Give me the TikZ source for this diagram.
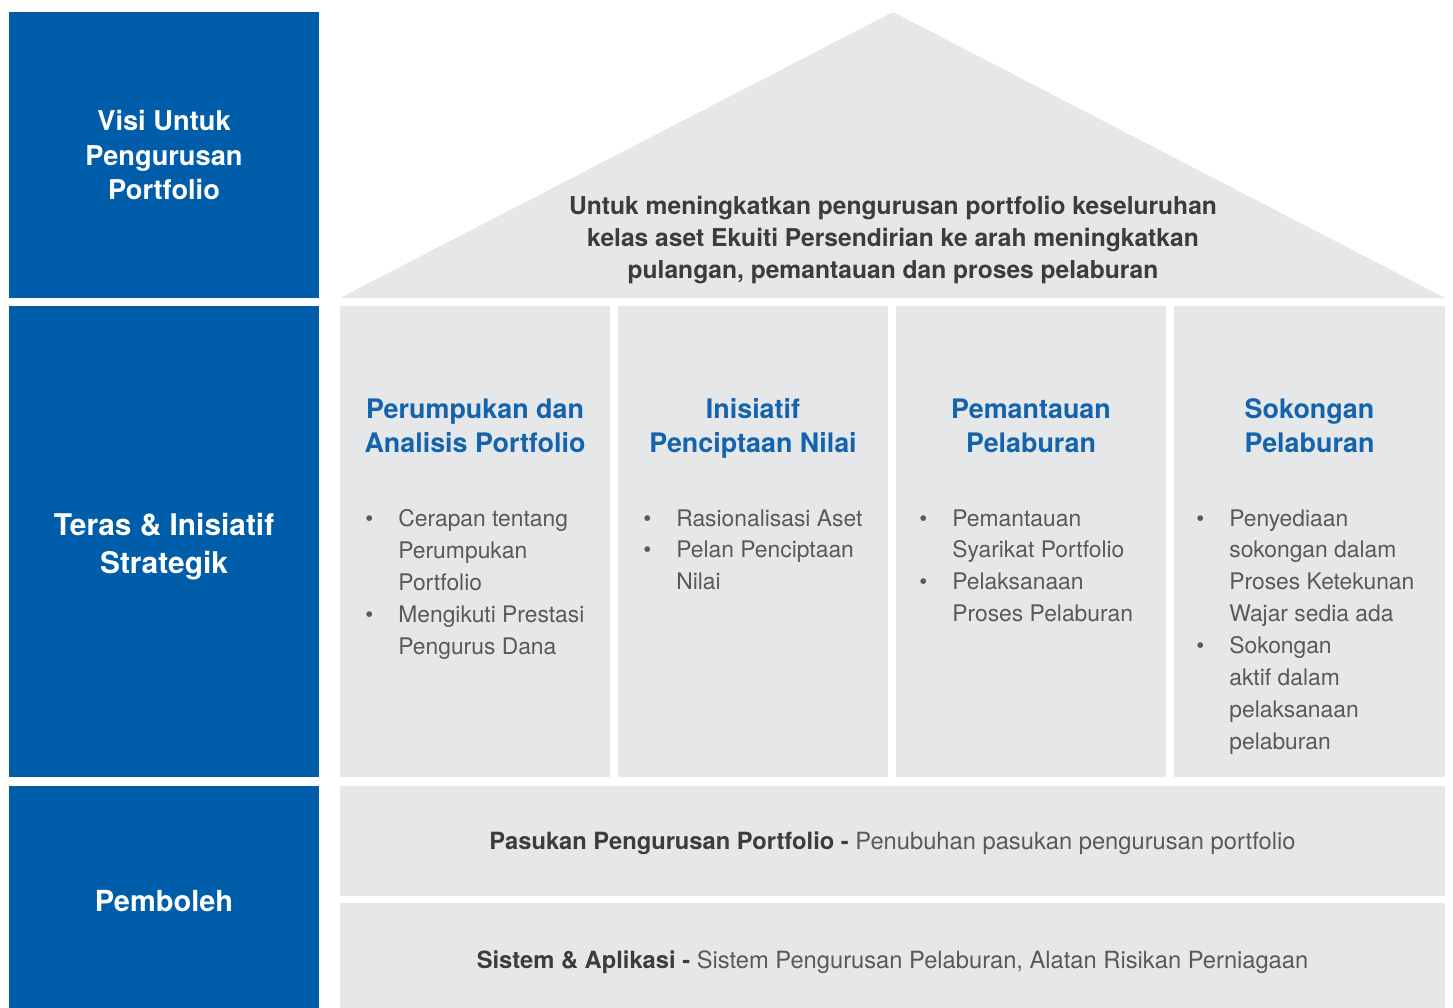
\documentclass[tikz,border=0pt]{standalone}
\usepackage{fontspec}
\setmainfont{TeX Gyre Heros}
\usetikzlibrary{positioning}
\definecolor{pillarblue}{HTML}{005DAA}
\definecolor{headblue}{HTML}{1363AD}
\definecolor{housegray}{HTML}{E6E7E9}
\definecolor{bodygray}{HTML}{58595B}
\definecolor{inkdark}{HTML}{3C3C3E}
\tikzset{
  bluebox/.style={fill=pillarblue,text=white,inner sep=0pt,align=center,minimum width=6.2cm,font=\bfseries},
  graybox/.style={fill=housegray,inner sep=0pt,align=center},
  pillarhead/.style={text=headblue,align=center,font=\fontsize{15.3}{19.4}\selectfont\bfseries},
  pillarbody/.style={text=bodygray,align=left,inner sep=0pt,anchor=north west,font=\fontsize{13}{18.2}\selectfont},
  bartext/.style={text=bodygray,font=\fontsize{13.5}{16}\selectfont}
}
\newcommand{\blt}{\llap{\textbullet\hspace{0.5cm}}}

\begin{document}
\begin{tikzpicture}[x=0.02cm,y=-0.02cm]
  \useasboundingbox (0,0) rectangle (1453,1007);

  \node[bluebox,minimum height=5.72cm,font=\fontsize{15.5}{19.4}\selectfont\bfseries] (visi) at (164,155) {Visi Untuk\\Pengurusan\\Portfolio};
  \node[bluebox,minimum height=9.42cm,font=\fontsize{17}{21.6}\selectfont\bfseries] (teras) at (164,541.5) {\rule{0pt}{19pt}Teras \& Inisiatif\\Strategik};
  \node[bluebox,minimum height=4.6cm,font=\fontsize{16.5}{20}\selectfont\bfseries] (pemboleh) at (164,901) {Pemboleh};

  \fill[housegray] (340,298) -- (893,12) -- (1445,298) -- cycle;
  \node[text=inkdark,align=center,font=\fontsize{14}{18.2}\selectfont\bfseries] (vision) at (893,240)
    {Untuk meningkatkan pengurusan portfolio keseluruhan\\kelas aset Ekuiti Persendirian ke arah meningkatkan\\pulangan, pemantauan dan proses pelaburan};

  \node[graybox,minimum width=5.4cm,minimum height=9.42cm] (col1) at (475,541.5) {};
  \node[graybox,minimum width=5.4cm,minimum height=9.42cm] (col2) at (753,541.5) {};
  \node[graybox,minimum width=5.4cm,minimum height=9.42cm] (col3) at (1031,541.5) {};
  \node[graybox,minimum width=5.42cm,minimum height=9.42cm] (col4) at (1309.5,541.5) {};

  \node[pillarhead] (head1) at (475,426) {Perumpukan dan\\Analisis Portfolio};
  \node[pillarhead] (head2) at (753,428) {Inisiatif\\Penciptaan Nilai};
  \node[pillarhead] (head3) at (1031,426) {Pemantauan\\Pelaburan};
  \node[pillarhead] (head4) at (1309.5,426) {Sokongan\\Pelaburan};

  \node[pillarbody] (body1) at (398,509) {\blt Cerapan tentang\\Perumpukan\\Portfolio\\\blt Mengikuti Prestasi\\Pengurus Dana};
  \node[pillarbody] (body2) at (676,509) {\blt Rasionalisasi Aset\\\blt Pelan Penciptaan\\Nilai};
  \node[pillarbody] (body3) at (952,509) {\blt Pemantauan\\Syarikat Portfolio\\\blt Pelaksanaan\\Proses Pelaburan};
  \node[pillarbody] (body4) at (1229,509) {\blt Penyediaan\\sokongan dalam\\Proses Ketekunan\\Wajar sedia ada\\\blt Sokongan\\aktif dalam\\pelaksanaan\\pelaburan};

  \node[graybox,minimum width=22.1cm,minimum height=2.2cm] (team) at (892.5,841) {};
  \node[bartext] (teamtext) at ([yshift=-1pt]team.center)
    {\textcolor{inkdark}{\bfseries Pasukan Pengurusan Portfolio -} Penubuhan pasukan pengurusan portfolio};
  \node[graybox,minimum width=22.1cm,minimum height=2.28cm] (system) at (892.5,960) {};
  \node[bartext] (systemtext) at ([yshift=-1pt]system.center)
    {\textcolor{inkdark}{\bfseries Sistem \& Aplikasi -} Sistem Pengurusan Pelaburan, Alatan Risikan Perniagaan};
\end{tikzpicture}
\end{document}
